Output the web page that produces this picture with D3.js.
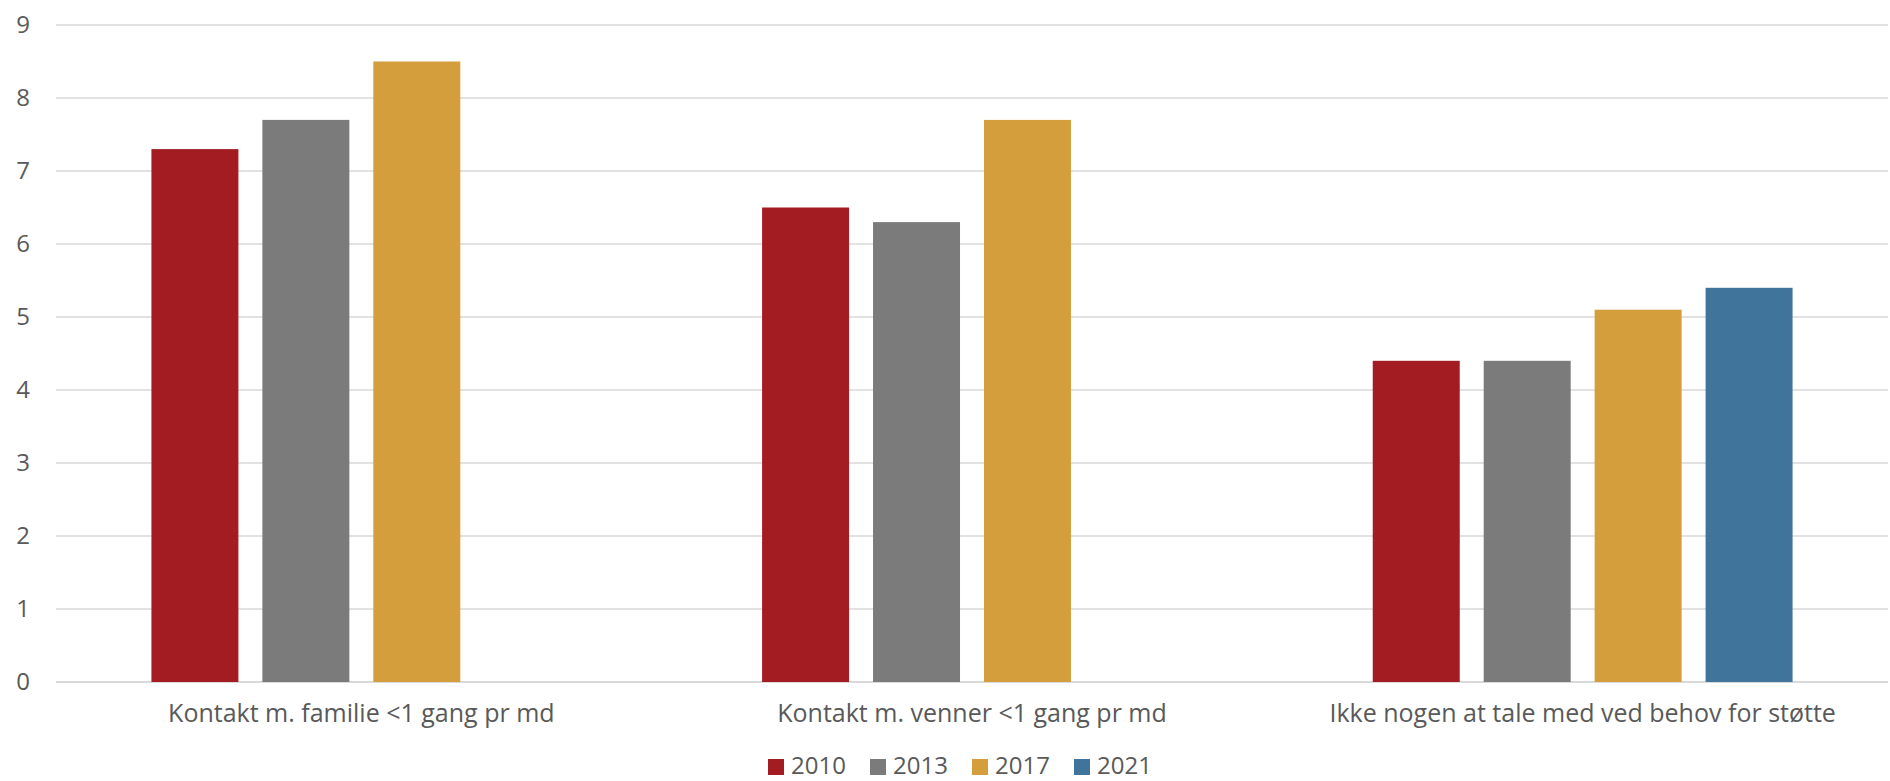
<!DOCTYPE html>
<html>
<head>
<meta charset="utf-8">
<script src="https://cdn.jsdelivr.net/npm/d3@7"></script>
<style>
  body { margin: 0; background: #fff; overflow: hidden; }
  text { font-family: "Open Sans", "Noto Sans", sans-serif; fill: #595959; }
</style>
</head>
<body>
<div id="chart"></div>
<script>
var categories = ["Kontakt m. familie <1 gang pr md", "Kontakt m. venner <1 gang pr md", "Ikke nogen at tale med ved behov for støtte"];
var years = ["2010", "2013", "2017", "2021"];
var v2010 = [7.3, 6.5, 4.4];
var v2013 = [7.7, 6.3, 4.4];
var v2017 = [8.5, 7.7, 5.1];
var v2021 = [null, null, 5.4];
var yTicks = [0, 1, 2, 3, 4, 5, 6, 7, 8, 9];
var colors = ["#A21C21", "#7B7B7B", "#D49E3C", "#41749B"];

var w = 1890, h = 781;
var plotLeft = 56, plotRight = 1888, plotTop = 25, plotBottom = 682;

var seriesValues = [v2010, v2013, v2017, v2021];
var dataset = [];
categories.forEach(function(c, i){
    years.forEach(function(y, j){
        if (seriesValues[j][i] != null) {
            dataset.push({cat: c, year: y, value: seriesValues[j][i]});
        }
    });
});

var svg = d3.select("#chart")
        .append("svg")
        .attr("width", w)
        .attr("height", h);

var x0 = d3.scaleBand()
        .domain(categories)
        .range([plotLeft, plotRight])
        .padding(0);

var x1 = d3.scaleBand()
        .domain(years)
        .range([0, x0.bandwidth()])
        .paddingInner(0.216)
        .paddingOuter(0.86);

var yScale = d3.scaleLinear()
        .domain([0, 9])
        .range([plotBottom, plotTop]);

// gridlines
svg.append("g")
    .selectAll("line")
    .data(yTicks)
    .enter()
    .append("line")
    .attr("x1", plotLeft)
    .attr("x2", plotRight)
    .attr("y1", function(d){ return yScale(d); })
    .attr("y2", function(d){ return yScale(d); })
    .style("stroke", "#D9D9D9")
    .style("stroke-width", function(d){ return d === 0 ? 2 : 1.5; });

// y labels
var yAxis = d3.axisLeft(yScale)
        .tickValues(yTicks)
        .tickSize(0)
        .tickPadding(0);

svg.append("g")
    .attr("transform", "translate(30,0)")
    .call(yAxis)
    .call(function(g){ g.select(".domain").remove(); })
    .selectAll("text")
    .style("font-size", "24px")
    .style("font-family", "'Open Sans', sans-serif")
    .attr("fill", "#595959");

// bars
svg.append("g")
    .selectAll("rect")
    .data(dataset)
    .enter()
    .append("rect")
    .attr("x", function(d){ return x0(d.cat) + x1(d.year); })
    .attr("y", function(d){ return yScale(d.value); })
    .attr("width", x1.bandwidth())
    .attr("height", function(d){ return yScale(0) - yScale(d.value); })
    .style("fill", function(d){ return colors[years.indexOf(d.year)]; });

// x labels
var xAxis = d3.axisBottom(x0)
        .tickSize(0)
        .tickPadding(0);

svg.append("g")
    .attr("transform", "translate(0," + (plotBottom + 40) + ")")
    .call(xAxis)
    .call(function(g){ g.select(".domain").remove(); })
    .selectAll("text")
    .attr("dy", "0")
    .style("font-size", "25px")
    .style("font-family", "'Open Sans', sans-serif")
    .attr("fill", "#595959");

// legend
var legend = svg.append("g")
    .selectAll("g")
    .data(years)
    .enter()
    .append("g")
    .attr("transform", function(d, i){ return "translate(" + (768 + i * 102) + ",759)"; });

legend.append("rect")
    .attr("width", 16)
    .attr("height", 16)
    .style("fill", function(d, i){ return colors[i]; });

legend.append("text")
    .attr("x", 23)
    .attr("y", 15)
    .style("font-size", "24px")
    .text(function(d){ return d; });
</script>
</body>
</html>
